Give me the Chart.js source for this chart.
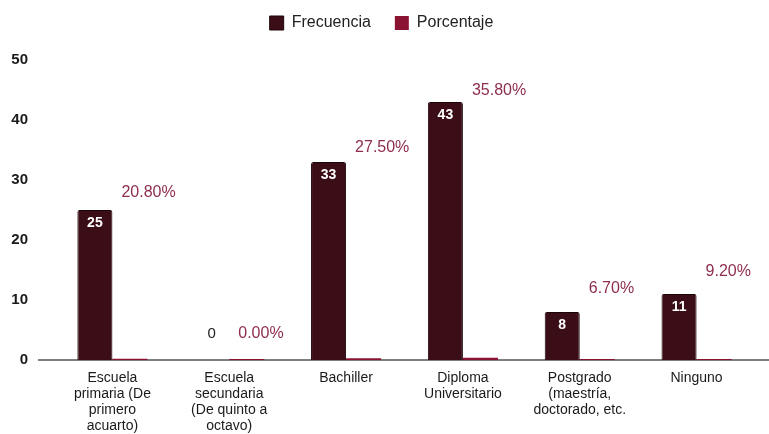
<!DOCTYPE html>
<html>
<head>
<meta charset="utf-8">
<script src="https://cdn.jsdelivr.net/npm/chart.js@4.4.0/dist/chart.umd.min.js"></script>
<style>
  html, body { margin: 0; padding: 0; background: #fff; }
  #wrap { width: 769px; height: 434px; }
</style>
</head>
<body>
<div id="wrap"><canvas id="grafico"></canvas></div>
<script>
// Datos del gráfico
const categorias = [
    ['Escuela', 'primaria (De', 'primero', 'acuarto)'],
    ['Escuela', 'secundaria', '(De quinto a', 'octavo)'],
    ['Bachiller'],
    ['Diploma', 'Universitario'],
    ['Postgrado', '(maestría,', 'doctorado, etc.'],
    ['Ninguno']
];
const frecuencia = [25, 0, 33, 43, 8, 11];
const porcentaje = [0.208, 0.0, 0.275, 0.358, 0.067, 0.092];
const ticksY = [0, 10, 20, 30, 40, 50];

const colorFrecuencia = '#3b0d17';
const colorPorcentaje = '#8a1331';
const colorTextoPct = '#8e2d4f';
const fuente = '"Liberation Sans", Arial, sans-serif';

// Espacio extra debajo de la leyenda
const margenLeyenda = {
    id: 'margenLeyenda',
    beforeInit(chart) {
        const fitOriginal = chart.legend.fit;
        chart.legend.fit = function() {
            fitOriginal.bind(chart.legend)();
            this.height += 19;
        };
    }
};

// Línea base prolongada a ambos lados
const lineaBase = {
    id: 'lineaBase',
    beforeDatasetsDraw(chart) {
        const ctx = chart.ctx;
        const area = chart.chartArea;
        const y0 = chart.scales.y.getPixelForValue(0);
        ctx.save();
        ctx.strokeStyle = '#555';
        ctx.lineWidth = 1.5;
        ctx.beginPath();
        ctx.moveTo(area.left - 16, y0);
        ctx.lineTo(chart.width, y0);
        ctx.stroke();
        ctx.restore();
    }
};

// Etiquetas de valores sobre las barras
const etiquetasPlugin = {
    id: 'etiquetas',
    afterDatasetsDraw(chart) {
        const ctx = chart.ctx;
        const y = chart.scales.y;
        const metaF = chart.getDatasetMeta(0);
        const metaP = chart.getDatasetMeta(1);
        ctx.save();
        ctx.textBaseline = 'middle';

        metaF.data.forEach(function(bar, i) {
            const v = frecuencia[i];
            ctx.textAlign = 'center';
            if (v > 0) {
                ctx.font = 'bold 14px ' + fuente;
                ctx.fillStyle = '#ffffff';
                ctx.fillText(String(v), bar.x, bar.y + 13);
            } else {
                ctx.font = '15px ' + fuente;
                ctx.fillStyle = '#222222';
                ctx.fillText(String(v), bar.x, y.getPixelForValue(4.4));
            }
        });

        metaP.data.forEach(function(bar, i) {
            const p = porcentaje[i] * 100;
            ctx.textAlign = 'left';
            ctx.font = '16px ' + fuente;
            ctx.fillStyle = colorTextoPct;
            const left = bar.x - bar.width / 2 + 9;
            ctx.fillText(p.toFixed(2) + '%', left, y.getPixelForValue(4.4 + p * 1.13));
        });
        ctx.restore();
    }
};

const ctx = document.getElementById('grafico');
new Chart(ctx, {
    type: 'bar',
    data: {
        labels: categorias,
        datasets: [{
            label: 'Frecuencia',
            data: frecuencia,
            backgroundColor: colorFrecuencia,
            borderColor: '#1c0508',
            borderWidth: 1,
            borderRadius: 2,
            borderSkipped: 'bottom',
            categoryPercentage: 0.6,
            barPercentage: 1.0
        }, {
            label: 'Porcentaje',
            data: porcentaje,
            backgroundColor: colorPorcentaje,
            borderWidth: 0,
            minBarLength: 1,
            categoryPercentage: 0.6,
            barPercentage: 1.0
        }]
    },
    options: {
        responsive: true,
        maintainAspectRatio: false,
        animation: false,
        layout: {
            padding: { left: 8, right: 14, top: -9, bottom: 0 }
        },
        plugins: {
            legend: {
                display: true,
                position: 'top',
                labels: {
                    boxWidth: 14,
                    boxHeight: 14,
                    padding: 24,
                    color: '#222',
                    font: { size: 16, family: fuente }
                }
            },
            tooltip: { enabled: false }
        },
        scales: {
            x: {
                afterFit: function(axis) {
                    axis.height = 74;
                },
                grid: { display: false, drawTicks: false },
                border: { display: false },
                ticks: {
                    color: '#1a1a1a',
                    padding: 10,
                    maxRotation: 0,
                    autoSkip: false,
                    font: { size: 14, family: fuente, lineHeight: 1.15 }
                }
            },
            y: {
                min: 0,
                max: 50,
                afterBuildTicks: function(axis) {
                    axis.ticks = ticksY.map(function(v) { return { value: v }; });
                },
                afterFit: function(axis) {
                    axis.width = 46;
                },
                grid: { display: false, drawTicks: false },
                border: { display: false },
                ticks: {
                    color: '#1a1a1a',
                    padding: 26,
                    font: { size: 15, weight: 'bold', family: fuente }
                }
            }
        }
    },
    plugins: [margenLeyenda, lineaBase, etiquetasPlugin]
});
</script>
</body>
</html>
